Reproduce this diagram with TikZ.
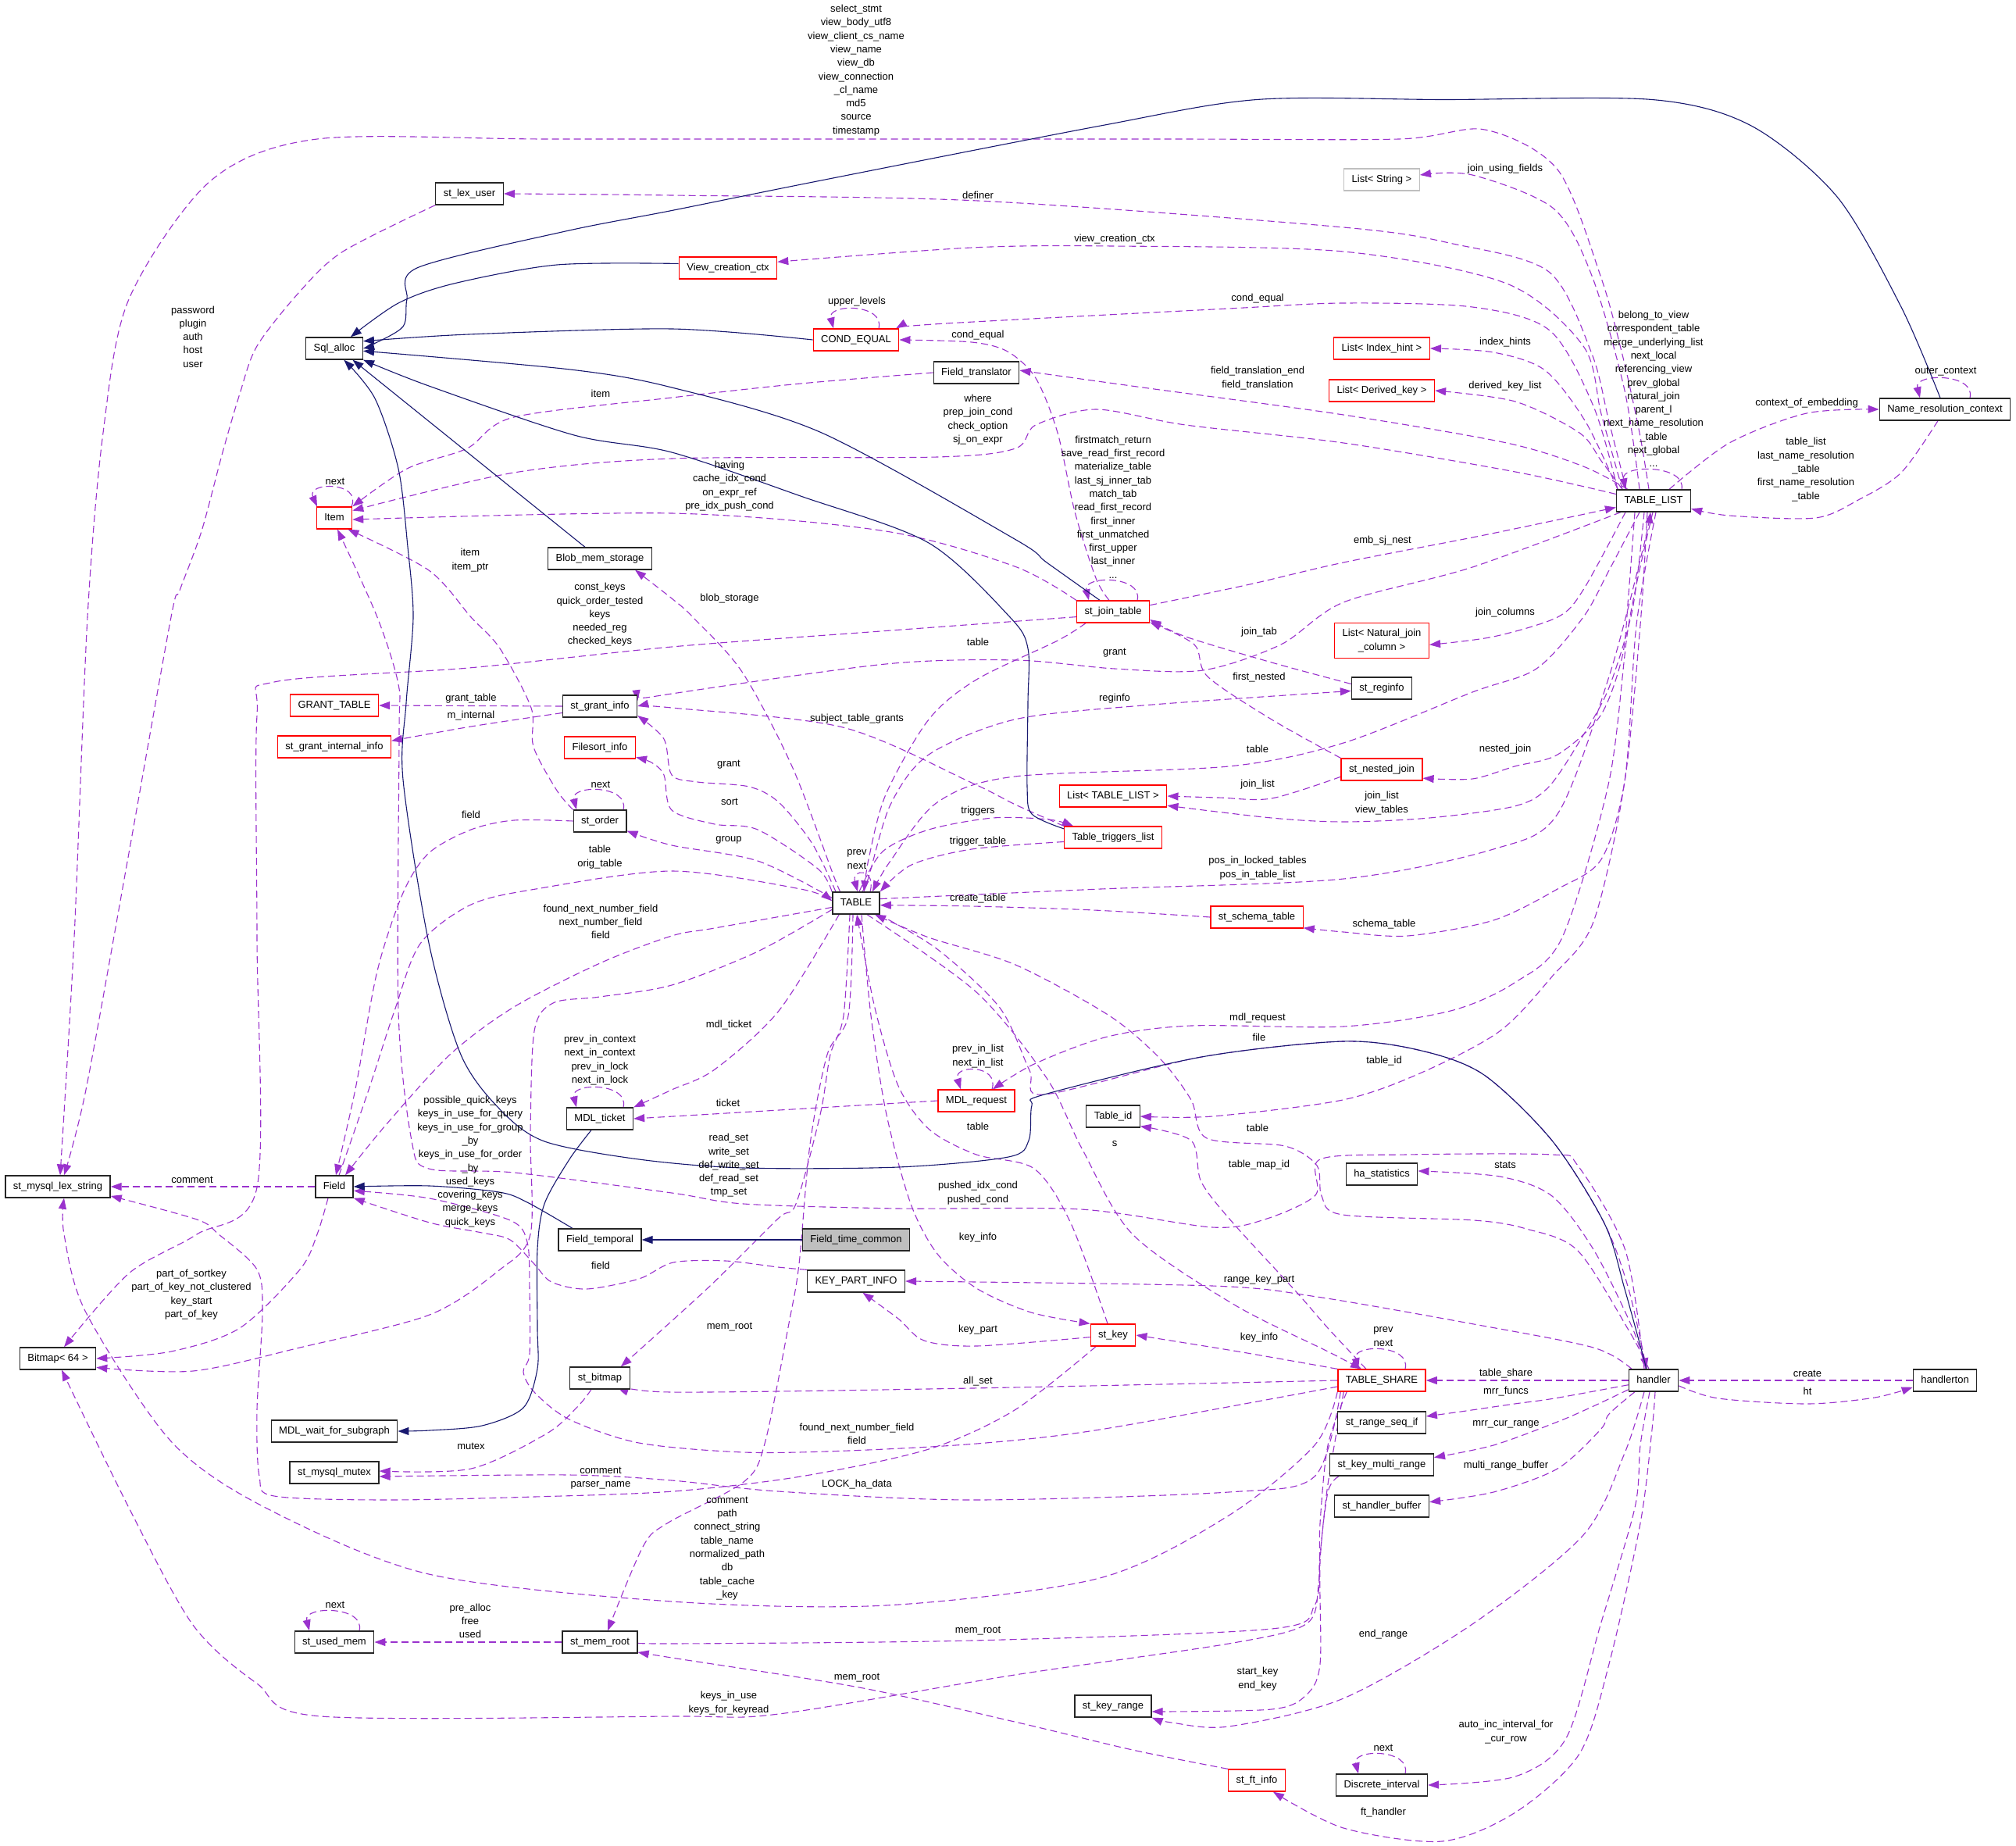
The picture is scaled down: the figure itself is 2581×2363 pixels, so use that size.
\documentclass[tikz,border=0pt]{standalone}
\usepackage{fontspec}
\newfontfamily\dxfont{Liberation Sans}
\usetikzlibrary{arrows.meta}
\definecolor{purp}{HTML}{9A32CD}
\definecolor{navyb}{HTML}{191970}
\newcommand\dfont{\dxfont\fontsize{13pt}{17.3pt}\selectfont}
\newcommand\sloop[3]{\draw[dep] ([xshift=#2pt]#1.north) .. controls +(#3,-32) and +(-#3,-32) .. ([xshift=-#2pt]#1.north);}
\pgfdeclarelayer{background}
\pgfdeclarelayer{edges}
\pgfsetlayers{background,edges,main}
\tikzset{
 box/.style={draw=black!85, line width=1.3pt, font=\dfont, minimum height=28pt, inner xsep=10pt, inner ysep=0pt, text height=9.4pt, text depth=2.7pt, fill=white},
 rbox/.style={box, draw=red},
 gbox/.style={box, draw=gray!50},
 lbl/.style={font=\dfont, align=center, inner sep=0pt},
 dep/.style={draw=purp, line width=1.1pt, dash pattern=on 9pt off 5pt, -{Triangle[length=14pt,width=10pt]}},
 inh/.style={draw=navyb, line width=1.1pt, -{Triangle[length=14pt,width=10pt]}},
}
\begin{document}
\begin{tikzpicture}[x=1pt,y=-1pt]
\useasboundingbox (0,0) rectangle (2581,2363);
\begin{pgfonlayer}{background}
\fill[white] (0,0) rectangle (2581,2363);
\end{pgfonlayer}
% ---------------- nodes
\node[box] (lexs) at (74,1519) {st\_mysql\_lex\_string};
\node[box] (bmp) at (74,1739) {Bitmap< 64 >};
\node[box] (salloc) at (428,446) {Sql\_alloc};
\node[rbox] (item) at (428,663) {Item};
\node[rbox] (gtab) at (428,903) {GRANT\_TABLE};
\node[rbox] (sgii) at (428,956) {st\_grant\_internal\_info};
\node[box] (field) at (428,1519) {Field};
\node[box] (mdlw) at (428,1832) {MDL\_wait\_for\_subgraph};
\node[box] (mutex) at (428,1885) {st\_mysql\_mutex};
\node[box] (usedmem) at (428,2102) {st\_used\_mem};
\node[box] (lexuser) at (601,248) {st\_lex\_user};
\node[box] (blob) at (768,715) {Blob\_mem\_storage};
\node[box] (sgi) at (768,904) {st\_grant\_info};
\node[rbox] (fsi) at (768,957) {Filesort\_info};
\node[box] (sorder) at (768,1051) {st\_order};
\node[box] (mdlt) at (768,1432) {MDL\_ticket};
\node[box] (ftemp) at (768,1587) {Field\_temporal};
\node[box] (sbmp) at (768,1764) {st\_bitmap};
\node[box] (memroot) at (768,2102) {st\_mem\_root};
\node[rbox] (vcc) at (932,343) {View\_creation\_ctx};
\node[rbox] (ceq) at (1096,435) {COND\_EQUAL};
\node[box] (tbl) at (1096,1156) {TABLE};
\node[box, fill=gray!50] (ftc) at (1096,1587) {Field\_time\_common};
\node[box] (kpi) at (1096,1640) {KEY\_PART\_INFO};
\node[box] (ftr) at (1250,477) {Field\_translator};
\node[rbox] (mdlr) at (1250,1409) {MDL\_request};
\node[rbox] (sjt) at (1425,783) {st\_join\_table};
\node[rbox] (ltl) at (1425,1019) {List< TABLE\_LIST >};
\node[rbox] (ttl) at (1425,1072) {Table\_triggers\_list};
\node[box] (tid) at (1425,1429) {Table\_id};
\node[rbox] (skey) at (1425,1709) {st\_key};
\node[box] (skr) at (1425,2184) {st\_key\_range};
\node[rbox] (sst) at (1609,1174) {st\_schema\_table};
\node[rbox] (sft) at (1609,2279) {st\_ft\_info};
\node[gbox] (lstr) at (1769,230) {List< String >};
\node[rbox] (lih) at (1769,446) {List< Index\_hint >};
\node[rbox] (ldk) at (1769,500) {List< Derived\_key >};
\node[rbox, text height=, text depth=, align=center, minimum height=45pt] (lnjc) at (1769,820) {List< Natural\_join\\\_column >};
\node[box] (sreg) at (1769,881) {st\_reginfo};
\node[rbox] (snj) at (1769,985) {st\_nested\_join};
\node[box] (hast) at (1769,1503) {ha\_statistics};
\node[rbox] (tsh) at (1769,1767) {TABLE\_SHARE};
\node[box] (srsi) at (1769,1821) {st\_range\_seq\_if};
\node[box] (skmr) at (1769,1875) {st\_key\_multi\_range};
\node[box] (shb) at (1769,1928) {st\_handler\_buffer};
\node[box] (dint) at (1769,2285) {Discrete\_interval};
\node[box] (tl) at (2117,641) {TABLE\_LIST};
\node[box] (hdl) at (2117,1767) {handler};
\node[box] (nrc) at (2490,524) {Name\_resolution\_context};
\node[box] (hton) at (2490,1767) {handlerton};
% ---------------- labels
\node[lbl] (l1) at (1096,90) {select\_stmt\\view\_body\_utf8\\view\_client\_cs\_name\\view\_name\\view\_db\\view\_connection\\\_cl\_name\\md5\\source\\timestamp};
\node[lbl] (l2) at (247,431) {password\\plugin\\auth\\host\\user};
\node[lbl] (l3) at (1252,250) {definer};
\node[lbl] (l4) at (1427,306) {view\_creation\_ctx};
\node[lbl] (l5) at (1097,386) {upper\_levels};
\node[lbl] (l6) at (1610,382) {cond\_equal};
\node[lbl] (l7) at (1252,429) {cond\_equal};
\node[lbl] (l8) at (1610,484) {field\_translation\_end\\field\_translation};
\node[lbl] (l9) at (1252,537) {where\\prep\_join\_cond\\check\_option\\sj\_on\_expr};
\node[lbl] (l10) at (934,622) {having\\cache\_idx\_cond\\on\_expr\_ref\\pre\_idx\_push\_cond};
\node[lbl] (l11) at (1425,649) {firstmatch\_return\\save\_read\_first\_record\\materialize\_table\\last\_sj\_inner\_tab\\match\_tab\\read\_first\_record\\first\_inner\\first\_unmatched\\first\_upper\\last\_inner\\...};
\node[lbl] (l12) at (934,766) {blob\_storage};
\node[lbl] (l13) at (1927,216) {join\_using\_fields};
\node[lbl] (l14) at (1927,438) {index\_hints};
\node[lbl] (l15) at (1927,494) {derived\_key\_list};
\node[lbl] (l16) at (2117,498) {belong\_to\_view\\correspondent\_table\\merge\_underlying\_list\\next\_local\\referencing\_view\\prev\_global\\natural\_join\\parent\_l\\next\_name\_resolution\\\_table\\next\_global\\...};
\node[lbl] (l17) at (2491,476) {outer\_context};
\node[lbl] (l18) at (2313,516) {context\_of\_embedding};
\node[lbl] (l19) at (2312,601) {table\_list\\last\_name\_resolution\\\_table\\first\_name\_resolution\\\_table};
\node[lbl] (l20) at (1770,692) {emb\_sj\_nest};
\node[lbl] (l21) at (1927,784) {join\_columns};
\node[lbl] (l22) at (429,616) {next};
\node[lbl] (l23) at (769,504) {item};
\node[lbl] (l24) at (602,717) {item\\item\_ptr};
\node[lbl] (l25) at (768,787) {const\_keys\\quick\_order\_tested\\keys\\needed\_reg\\checked\_keys};
\node[lbl] (l26) at (603,894) {grant\_table};
\node[lbl] (l27) at (603,916) {m\_internal};
\node[lbl] (l28) at (769,1004) {next};
\node[lbl] (l29) at (603,1043) {field};
\node[lbl] (l30) at (768,1097) {table\\orig\_table};
\node[lbl] (l31) at (769,1180) {found\_next\_number\_field\\next\_number\_field\\field};
\node[lbl] (l32) at (768,1357) {prev\_in\_context\\next\_in\_context\\prev\_in\_lock\\next\_in\_lock};
\node[lbl] (l33) at (602,1487) {possible\_quick\_keys\\keys\_in\_use\_for\_query\\keys\_in\_use\_for\_group\\\_by\\keys\_in\_use\_for\_order\\\_by\\used\_keys\\covering\_keys\\merge\_keys\\quick\_keys};
\node[lbl] (l34) at (246,1510) {comment};
\node[lbl] (l35) at (1252,822) {table};
\node[lbl] (l36) at (1427,836) {grant};
\node[lbl] (l37) at (1612,809) {join\_tab};
\node[lbl] (l38) at (1612,867) {first\_nested};
\node[lbl] (l39) at (1427,894) {reginfo};
\node[lbl] (l40) at (1097,920) {subject\_table\_grants};
\node[lbl] (l41) at (1610,959) {table};
\node[lbl] (l42) at (933,979) {grant};
\node[lbl] (l43) at (1610,1004) {join\_list};
\node[lbl] (l44) at (934,1026) {sort};
\node[lbl] (l45) at (1252,1038) {triggers};
\node[lbl] (l46) at (933,1075) {group};
\node[lbl] (l47) at (1252,1077) {trigger\_table};
\node[lbl] (l48) at (1097,1100) {prev\\next};
\node[lbl] (l49) at (1610,1111) {pos\_in\_locked\_tables\\pos\_in\_table\_list};
\node[lbl] (l50) at (1252,1150) {create\_table};
\node[lbl] (l51) at (933,1312) {mdl\_ticket};
\node[lbl] (l52) at (1610,1303) {mdl\_request};
\node[lbl] (l53) at (1612,1328) {file};
\node[lbl] (l54) at (1252,1352) {prev\_in\_list\\next\_in\_list};
\node[lbl] (l55) at (932,1412) {ticket};
\node[lbl] (l56) at (1252,1442) {table};
\node[lbl] (l57) at (1427,1464) {s};
\node[lbl] (l58) at (1610,1444) {table};
\node[lbl] (l59) at (1612,1491) {table\_map\_id};
\node[lbl] (l60) at (933,1492) {read\_set\\write\_set\\def\_write\_set\\def\_read\_set\\tmp\_set};
\node[lbl] (l61) at (1252,1527) {pushed\_idx\_cond\\pushed\_cond};
\node[lbl] (l62) at (1927,959) {nested\_join};
\node[lbl] (l63) at (1769,1028) {join\_list\\view\_tables};
\node[lbl] (l64) at (1772,1183) {schema\_table};
\node[lbl] (l65) at (1772,1358) {table\_id};
\node[lbl] (l66) at (1927,1491) {stats};
\node[lbl] (l67) at (769,1620) {field};
\node[lbl] (l68) at (245,1657) {part\_of\_sortkey\\part\_of\_key\_not\_clustered\\key\_start\\part\_of\_key};
\node[lbl] (l69) at (603,1851) {mutex};
\node[lbl] (l70) at (769,1892) {comment\\parser\_name};
\node[lbl] (l71) at (429,2054) {next};
\node[lbl] (l72) at (602,2075) {pre\_alloc\\free\\used};
\node[lbl] (l73) at (1252,1584) {key\_info};
\node[lbl] (l74) at (1612,1638) {range\_key\_part};
\node[lbl] (l75) at (934,1699) {mem\_root};
\node[lbl] (l76) at (1252,1702) {key\_part};
\node[lbl] (l77) at (1612,1712) {key\_info};
\node[lbl] (l78) at (1252,1768) {all\_set};
\node[lbl] (l79) at (1097,1835) {found\_next\_number\_field\\field};
\node[lbl] (l80) at (1097,1900) {LOCK\_ha\_data};
\node[lbl] (l81) at (931,1982) {comment\\path\\connect\_string\\table\_name\\normalized\_path\\db\\table\_cache\\\_key};
\node[lbl] (l82) at (1252,2088) {mem\_root};
\node[lbl] (l83) at (1097,2148) {mem\_root};
\node[lbl] (l84) at (933,2180) {keys\_in\_use\\keys\_for\_keyread};
\node[lbl] (l85) at (1610,2149) {start\_key\\end\_key};
\node[lbl] (l86) at (1771,1711) {prev\\next};
\node[lbl] (l87) at (1928,1758) {table\_share};
\node[lbl] (l88) at (1928,1781) {mrr\_funcs};
\node[lbl] (l89) at (2314,1758) {create};
\node[lbl] (l90) at (2314,1781) {ht};
\node[lbl] (l91) at (1928,1823) {mrr\_cur\_range};
\node[lbl] (l92) at (1928,1876) {multi\_range\_buffer};
\node[lbl] (l93) at (1771,2092) {end\_range};
\node[lbl] (l94) at (1928,2217) {auto\_inc\_interval\_for\\\_cur\_row};
\node[lbl] (l95) at (1771,2237) {next};
\node[lbl] (l96) at (1771,2320) {ft\_handler};
% ---------------- edges
\begin{pgfonlayer}{edges}
\draw[dep] plot[smooth] coordinates {([xshift=-6pt]tl.north) (2099,554) (2077,454) (2049,353) (1994,217) (1901,166) (1791,178) (1500,178) (1096,178) (700,178) (406,178) (269,232) (165,383) (132,554) (112,790) (95,1200) ([xshift=3pt]lexs.north)};
\draw[dep] plot[smooth] coordinates {(lexuser.south west) (439,322) (384,373) (329,443) (307,504) (285,579) (258,680) (230,756) (219,790) (165,1092) (110,1395) ([xshift=8pt]lexs.north)};
\draw[dep] plot[smooth] coordinates {([xshift=-35pt]tl.north) (2060,540) (2038,453) (1983,348) (1860,312) (1720,291) (1252,257) (860,250) (lexuser.east)};
\draw[dep] plot[smooth] coordinates {([xshift=-40pt]tl.north) (2050,530) (2027,443) (1929,363) (1720,322) (1425,315) (1244,317) (vcc.7)};
\draw[dep] plot[smooth] coordinates {([xshift=-46pt]tl.north) (2040,520) (1984,423) (1885,393) (1720,388) (1573,395) (1211,414) (ceq.16)};
\draw[dep] plot[smooth] coordinates {([xshift=-5pt]sjt.north) (1403,740) (1376,655) (1354,554) (1326,484) (1290,450) (1244,438) (ceq.east)};
\draw[dep] plot[smooth] coordinates {([xshift=-33pt]tl.north) (2027,597) (1929,567) (1720,531) (1463,496) (ftr.3)};
\draw[dep] plot[smooth] coordinates {([xshift=-18pt]tl.north) (2080,500) (2038,353) (1989,267) (1885,224) (lstr.7)};
\draw[dep] plot[smooth] coordinates {([xshift=-46pt]tl.north) (2030,540) (1978,474) (1912,451) (lih.east)};
\draw[dep] plot[smooth] coordinates {([xshift=-40pt]tl.north) (2050,590) (2022,554) (1940,514) (ldk.east)};
\draw[dep] plot[smooth] coordinates {([xshift=20pt]tl.north) (2214,567) (2313,529) (nrc.west)};
\draw[dep] plot[smooth] coordinates {([xshift=-9pt]nrc.south) (2434,605) (2379,640) (2324,663) (2214,660) (tl.-12)};
\sloop{nrc}{32}{8}
\sloop{tl}{36}{6}
\draw[dep] plot[smooth] coordinates {(tl.170) (1940,604) (1720,567) (1518,544) (1403,524) (1326,544) (1300,574) (1200,585) (860,587) (658,605) (item.22)};
\draw[dep] plot[smooth] coordinates {(ftr.west) (1025,491) (860,509) (658,534) (598,574) (521,600) (item.north east)};
\draw[dep] plot[smooth] coordinates {(sjt.north west) (1299,725) (1134,680) (860,657) (item.-5)};
\draw[dep] plot[smooth] coordinates {([xshift=-12pt]hdl.north) (2081,1601) (2020,1492) (1987,1478) (1800,1478) (1690,1484) (1684,1530) (1619,1561) (1552,1571) (1384,1548) (1150,1547) (952,1541) (860,1527) (658,1501) (549,1496) (527,1460) (510,1294) (511,941) (510,876) (483,790) ([xshift=4pt]item.south)};
\draw[dep] plot[smooth] coordinates {(sorder.north west) (713,1012) (683,956) (680,906) (640,830) (603,790) (549,730) (item.-40)};
\sloop{item}{22}{14}
\draw[dep] plot[smooth] coordinates {([xshift=-20pt]tbl.north) (1068,1123) (1014,981) (950,860) (887,790) (860,766) (blob.-18)};
\draw[dep] plot[smooth] coordinates {([xshift=-35pt]sjt.south) (1354,820) (1250,870) (1189,921) (1134,1017) (1112,1100) (tbl.55)};
\draw[dep] plot[smooth] coordinates {([xshift=-18pt]tl.south) (2060,730) (2027,790) (1967,856) (1885,886) (1720,951) (1573,981) (1299,994) (1200,1027) (1140,1102) (tbl.35)};
\draw[dep] plot[smooth] coordinates {(ttl.-175) (1244,1087) (1167,1107) (tbl.north east)};
\draw[dep] plot[smooth] coordinates {([xshift=4pt]tbl.north) (1130,1090) (1189,1062) (1271,1047) (1343,1049) ([xshift=12pt]ttl.north west)};
\draw[dep] ([xshift=18pt]tbl.north) .. controls +(8,-30) and +(-8,-30) .. ([xshift=2pt]tbl.north);
\draw[dep] plot[smooth] coordinates {([xshift=-26pt]tbl.north) (1040,1080) (997,1027) (959,1007) (893,1001) (860,992) (850,946) (sgi.-14)};
\draw[dep] plot[smooth] coordinates {([xshift=-42pt]tl.south) (1885,726) (1720,771) (1640,825) (1540,858) (1427,856) (1300,845) (1134,850) (860,888) (sgi.8)};
\draw[dep] plot[smooth] coordinates {(ttl.north west) (1300,1030) (1244,1002) (1079,931) (860,906) (sgi.east)};
\draw[dep] plot[smooth] coordinates {([xshift=-31pt]tbl.north) (1047,1112) (970,1062) (915,1055) (860,1037) (850,992) (834,976) (fsi.-15)};
\draw[dep] plot[smooth] coordinates {(tbl.168) (970,1102) (860,1082) (sorder.-20)};
\draw[dep] plot[smooth] coordinates {([xshift=6pt]field.north) (472,1395) (505,1294) (538,1208) (603,1158) (686,1138) (860,1115) (1025,1138) (tbl.175)};
\draw[dep] plot[smooth] coordinates {(tbl.-170) (915,1188) (860,1198) (768,1233) (658,1289) (576,1350) (494,1440) ([xshift=14pt]field.north)};
\draw[dep] plot[smooth] coordinates {(sorder.west) (658,1050) (603,1062) (549,1092) (516,1143) (483,1243) (455,1394) ([xshift=2pt]field.north)};
\draw[dep] (field.west) -- (lexs.east);
\draw[dep] plot[smooth] coordinates {(kpi.north west) (996,1622) (929,1614) (862,1616) (818,1637) (751,1650) (706,1641) (684,1618) (653,1587) (617,1578) (550,1565) (field.south east)};
\draw[dep] plot[smooth] coordinates {(tsh.-172) (1408,1830) (1250,1848) (1086,1857) (952,1859) (818,1847) (729,1817) (684,1782) (670,1756) (678,1733) (678,1650) (675,1590) (653,1562) (550,1534) (field.-12)};
\draw[dep] plot[smooth] coordinates {(tbl.-146) (997,1294) (915,1369) (860,1395) (mdlt.north east)};
\draw[dep] (mdlr.west) -- (mdlt.east);
\draw[dep] plot[smooth] coordinates {([xshift=-1pt]tl.south) (2085,800) (2060,1000) (2000,1200) (1939,1258) (1857,1294) (1720,1314) (1525,1313) (1418,1327) (1324,1362) (mdlr.35)};
\draw[dep] plot[smooth] coordinates {([xshift=3pt]tl.south) (2095,800) (2080,1000) (2040,1180) (1987,1250) (1920,1320) (1820,1373) (1719,1408) (1552,1429) (tid.east)};
\draw[dep] plot[smooth] coordinates {([xshift=-20pt]tsh.north) (1700,1700) (1659,1653) (1579,1566) (1538,1513) (1525,1460) (tid.-20)};
\draw[dep] plot[smooth] coordinates {([xshift=14pt]tbl.south) (1250,1270) (1340,1380) (1385,1470) (1450,1580) (1580,1670) (1700,1730) ([xshift=-26pt]tsh.north)};
\draw[dep] plot[smooth] coordinates {([xshift=-6pt]hdl.north) (2087,1706) (2020,1601) (1954,1573) (1887,1562) (1719,1555) (1692,1531) (1686,1492) (1645,1467) (1545,1457) (1525,1408) (1485,1355) (1420,1300) (1300,1235) (1189,1200) ([xshift=24pt]tbl.south)};
\draw[dep] plot[smooth] coordinates {([xshift=29pt]tbl.south) (1200,1215) (1280,1290) (1318,1370) (1337,1401) (1538,1353) (1719,1333) (1820,1345) (1900,1376) (1987,1460) (2054,1566) (2085,1650) ([xshift=-9pt]hdl.north)};
\draw[dep] plot[smooth] coordinates {([xshift=7pt]tbl.south) (1115,1300) (1135,1427) (1166,1541) (1200,1605) (1250,1649) (1320,1680) (skey.north west)};
\draw[dep] plot[smooth] coordinates {([xshift=-7pt]skey.north) (1371,1566) (1324,1496) (1250,1478) (1190,1446) (1150,1390) (1120,1290) ([xshift=1pt]tbl.south)};
\draw[dep] plot[smooth] coordinates {(skey.-175) (1250,1723) (1183,1716) (1150,1688) (kpi.-60)};
\draw[dep] plot[smooth] coordinates {([xshift=-28pt]hdl.north) (2040,1725) (1887,1695) (1686,1660) (1552,1646) (kpi.east)};
\draw[dep] plot[smooth] coordinates {(tsh.north west) (1585,1730) (skey.east)};
\draw[dep] plot[smooth] coordinates {(tsh.west) (1244,1777) (860,1782) (sbmp.-12)};
\draw[dep] plot[smooth] coordinates {([xshift=-8pt]tbl.south) (1080,1300) (1063,1350) (1050,1427) (1019,1541) (996,1560) (907,1648) ([xshift=-12pt]sbmp.north east)};
\draw[dep] plot[smooth] coordinates {([xshift=-4pt]tbl.south) (1086,1300) (1059,1350) (1037,1465) (1023,1618) (1010,1694) (979,1848) (952,1897) (854,1950) (823,1980) ([xshift=10pt]memroot.north)};
\draw[dep] plot[smooth] coordinates {(tbl.-165) (970,1218) (860,1261) (768,1276) (708,1284) (684,1320) (679,1450) (679,1580) (639,1626) (550,1683) (384,1725) (247,1755) (bmp.-13)};
\draw[dep] plot[smooth] coordinates {([xshift=-8pt]field.south) (406,1580) (384,1625) (307,1700) (219,1730) (bmp.east)};
\draw[dep] plot[smooth] coordinates {(sjt.-172) (1100,810) (860,828) (600,855) (351,873) (329,916) (329,1200) (329,1520) (252,1580) (165,1630) ([xshift=8pt]bmp.north)};
\draw[dep] plot[smooth] coordinates {([xshift=12pt]tsh.south west) (1700,1850) (1690,1950) (1688,2029) (1672,2079) (1573,2104) (1299,2144) (997,2194) (860,2197) (411,2197) (329,2155) (247,2080) (165,1930) ([xshift=5pt]bmp.south)};
\draw[dep] plot[smooth] coordinates {(tsh.south west) (1683,1850) (1573,1940) (1408,2020) (1134,2055) (860,2050) (549,2015) (340,1930) (219,1845) (110,1680) (82,1580) ([xshift=8pt]lexs.south)};
\draw[dep] plot[smooth] coordinates {([xshift=-22pt]skey.south) (1299,1805) (1189,1855) (1025,1890) (862,1909) (684,1916) (494,1920) (351,1915) (332,1890) (329,1805) (336,1680) (329,1625) (280,1580) (252,1561) (lexs.-10)};
\draw[dep] plot[smooth] coordinates {([xshift=4pt]tsh.south west) (1683,1890) (1573,1910) (1244,1920) (996,1909) (860,1895) (729,1888) (mutex.-5)};
\draw[dep] plot[smooth] coordinates {([xshift=-11pt]sbmp.south) (740,1800) (700,1835) (603,1880) (mutex.2)};
\draw[dep] plot[smooth] coordinates {([xshift=8pt]tsh.south west) (1700,1900) (1690,1990) (1683,2055) (1628,2085) (1244,2100) (860,2104) (memroot.east)};
\draw[dep] plot[smooth] coordinates {(sft.north west) (1450,2240) (1299,2204) (1100,2160) (860,2122) (memroot.-15)};
\draw[dep] (memroot.west) -- (usedmem.east);
\sloop{usedmem}{32}{8}
\draw[dep] (hdl.west) -- (tsh.east);
\draw[dep] plot[smooth] coordinates {(hdl.-170) (1990,1790) (1939,1797) (1870,1807) (srsi.8)};
\draw[dep] plot[smooth] coordinates {(hdl.-160) (2040,1800) (1994,1820) (1912,1850) (skmr.8)};
\draw[dep] plot[smooth] coordinates {([xshift=-24pt]hdl.south) (2060,1810) (2049,1830) (1994,1880) (1912,1910) (shb.5)};
\draw[dep] plot[smooth] coordinates {([xshift=-12pt]hdl.south) (2080,1860) (2027,1965) (1885,2079) (1720,2174) (1573,2210) (1500,2205) (skr.south east)};
\draw[dep] plot[smooth] coordinates {(skmr.-165) (1700,1910) (1690,2000) (1690,2130) (1672,2170) (1628,2188) (skr.-8)};
\draw[dep] plot[smooth] coordinates {([xshift=-5pt]hdl.south) (2100,1850) (2093,1930) (2049,2080) (2005,2225) (1940,2274) (dint.east)};
\sloop{dint}{30}{8}
\draw[dep] plot[smooth] coordinates {([xshift=2pt]hdl.south) (2115,1830) (2100,1950) (2060,2130) (2022,2245) (1940,2320) (1846,2357) (1720,2340) (sft.-35)};
\draw[dep] plot[smooth] coordinates {([xshift=-10pt]hdl.north) (2090,1700) (2041,1601) (1987,1531) (1920,1506) (hast.5)};
\draw[dep] (hton.west) -- (hdl.east);
\draw[dep] plot[smooth] coordinates {(hdl.-12) (2200,1790) (2314,1797) (2400,1789) (hton.-168)};
\draw[dep] plot[smooth] coordinates {([xshift=-36pt]tl.south) (2027,755) (1994,790) (1912,815) (lnjc.-5)};
\draw[dep] plot[smooth] coordinates {([xshift=-24pt]tl.south) (2085,760) (2077,840) (2049,916) (1994,966) (1939,981) (1885,997) (snj.-12)};
\draw[dep] plot[smooth] coordinates {([xshift=-12pt]tl.south) (2090,780) (2060,880) (2027,941) (1983,1007) (1939,1032) (1830,1047) (1720,1052) (1628,1047) (ltl.-10)};
\draw[dep] plot[smooth] coordinates {(snj.-170) (1628,1022) (1560,1021) (ltl.east)};
\draw[dep] plot[smooth] coordinates {(snj.north west) (1628,921) (1546,866) (1529,825) (sjt.-16)};
\draw[dep] plot[smooth] coordinates {(sreg.172) (1628,848) (1518,815) (sjt.-12)};
\draw[dep] plot[smooth] coordinates {([xshift=8pt]tbl.north) (1112,1123) (1140,1030) (1189,966) (1299,921) (1463,903) (sreg.-175)};
\draw[dep] plot[smooth] coordinates {([xshift=-8pt]tl.south) (2100,800) (2080,1000) (2050,1100) (1994,1138) (1912,1178) (1802,1198) (1720,1193) (sst.-13)};
\draw[dep] plot[smooth] coordinates {(sst.west) (1400,1165) (1244,1160) (tbl.-5)};
\draw[dep] plot[smooth] coordinates {(tbl.10) (1409,1138) (1720,1125) (1912,1087) (1994,1042) (2060,866) (2104,700) ([xshift=-4pt]tl.south)};
\draw[dep] plot[smooth] coordinates {(sjt.10) (1600,748) (1720,720) (1900,685) (tl.-170)};
\draw[dep] (sgi.west) -- (gtab.east);
\draw[dep] plot[smooth] coordinates {(sgi.-170) (603,930) (sgii.6)};
\sloop{ceq}{29}{8}
\sloop{sjt}{31}{8}
\sloop{sorder}{30}{8}
\sloop{mdlt}{30}{8}
\sloop{mdlr}{20}{10}
\sloop{tsh}{30}{8}
% inheritance
\draw[inh] plot[smooth] coordinates {([xshift=-6pt]nrc.north) (2434,393) (2352,252) (2242,161) (2115,127.5) (1850,127.5) (1609,127.5) (1409,161) (1046,232) (860,269.5) (724,296) (535,342.5) (521,383) (516,418) (477,441) (salloc.east)};
\draw[inh] plot[smooth] coordinates {(vcc.175) (713,339) (581,363) (510,388) (salloc.35)};
\draw[inh] plot[smooth] coordinates {(ceq.west) (860,421) (600,428) (salloc.14)};
\draw[inh] plot[smooth] coordinates {([xshift=-17pt]sjt.north) (1340,720) (1299,690) (1052,554) (860,496) (730,473) (salloc.-5)};
\draw[inh] plot[smooth] coordinates {(ttl.170) (1321,1042) (1315,1007) (1316,900) (1316,830) (1293,790) (1189,695) (1025,635) (860,579) (735,557) (549,494) (salloc.south east)};
\draw[inh] ([xshift=-19pt]blob.north) -- (salloc.-32);
\draw[inh] plot[smooth] coordinates {([xshift=-9pt]hdl.north) (2080,1650) (2054,1566) (1987,1460) (1900,1376) (1820,1345) (1719,1333) (1538,1353) (1337,1401) (1321,1415) (1317,1460) (1291,1481) (1150,1494) (952,1495) (818,1484) (697,1461) (639,1419) (590,1350) (549,1207) (516,998) (520,900) (529,790) (522,700) (510,600) (480,510) (salloc.-50)};
\draw[inh] (ftc.west) -- (ftemp.east);
\draw[inh] plot[smooth] coordinates {([xshift=-35pt]ftemp.north) (675,1539) (639,1526) (550,1518) (field.east)};
\draw[inh] plot[smooth] coordinates {([xshift=-11pt]mdlt.south) (729,1484) (697,1541) (688,1599) (688,1700) (688,1752) (670,1802) (617,1825) (550,1831) (mdlw.east)};
\end{pgfonlayer}
\end{tikzpicture}
\end{document}
